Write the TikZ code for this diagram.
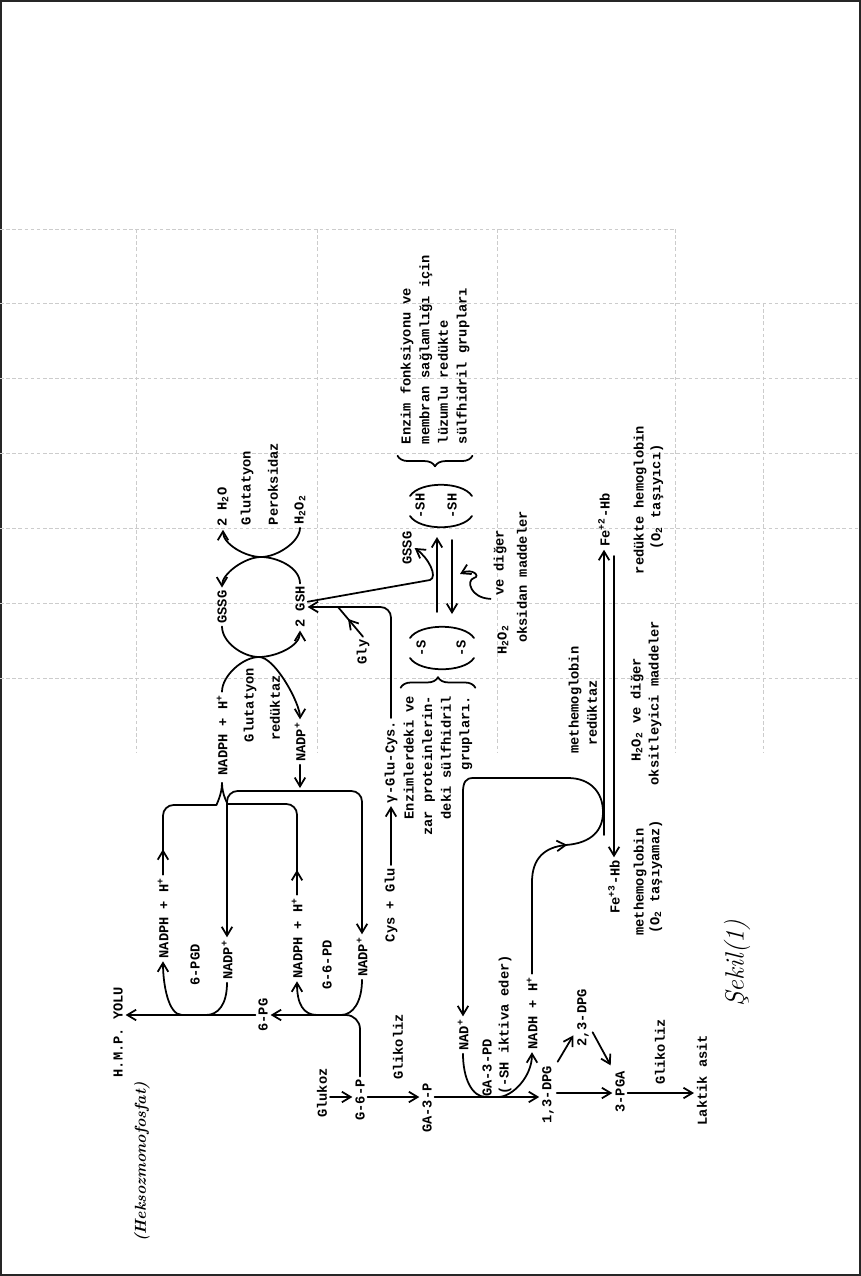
\documentclass[tikz,border=0pt]{standalone}
\usepackage{fontspec}
\newfontfamily\elyazi{Liberation Mono}
\usetikzlibrary{arrows.meta, calc, decorations.pathreplacing, decorations.markings}

\tikzset{
  etiket/.style={rotate=90, inner sep=1.5pt, font=\elyazi\bfseries\fontsize{7.8}{10.6}\selectfont},
  cizgi/.style={line width=1pt, line cap=round, line join=round},
  ok/.style={cizgi, -{Straight Barb[length=5pt, width=6pt]}},
  ciftok/.style={cizgi, {Straight Barb[length=5pt, width=6pt]}-{Straight Barb[length=5pt, width=6pt]}},
  ortaok/.style={cizgi, postaction={decorate}, decoration={markings, mark=at position #1 with {\arrow{Straight Barb[length=5pt, width=6pt]}}}},
  kume/.style={cizgi, decorate, decoration={brace, amplitude=6pt}},
  tablo/.style={black!20, line width=0.5pt, dash pattern=on 2pt off 1.5pt},
}

\begin{document}
\begin{tikzpicture}[x=0.02cm, y=-0.02cm]
  % Sayfa (page), koordinatlar piksel gibi, y asagi
  \def\busY{791} % NADP+ dagitim hatti
  \def\satirY{1097} % glikoliz satiri
  \useasboundingbox (0,0) rectangle (861,1276);
  \draw[black!85, line width=1.5pt] (1,1) rectangle (860,1275);

  % Soluk tablo (faint table)
  \draw[tablo] (0,229) -- (675,229);
  \foreach \y in {303,378,...,752} {
    \draw[tablo] (0,\y) -- (861,\y);
  }
  \foreach \x in {136,317,497,675} {
    \draw[tablo] (\x,229) -- (\x,752);
  }
  \draw[tablo] (763,303) -- (763,752);

  % Glutatyon dongusu (glutathione cycle)
  \node[etiket] (gssgA) at (222,607) {GSSG};
  \node[etiket] (gshA) at (300,607) {2 GSH};
  \node[etiket] (suA) at (223,507) {2 H\textsubscript{2}O};
  \node[etiket] (gpxA) at (247,488) {Glutatyon};
  \node[etiket] (gpxB) at (273,484) {Peroksidaz};
  \node[etiket] (hhA) at (300,510) {H\textsubscript{2}O\textsubscript{2}};
  \node[etiket] (grA) at (250,705) {Glutatyon};
  \node[etiket] (grB) at (275,708) {redüktaz};
  \node[etiket] (nadphA) at (222,735) {NADPH + H\textsuperscript{+}};
  \node[etiket] (nadpA) at (300,742) {NADP\textsuperscript{+}};

  % Peroksidaz capraz oklari
  \coordinate (px) at (261,557);
  \draw[ok] (gshA.east) .. controls +(0,-16) and +(16,0) .. (px) .. controls +(-16,0) and +(0,-14) .. (gssgA.east);
  \draw[ok] (hhA.west) .. controls +(0,14) and +(16,0) .. (px) .. controls +(-16,0) and +(0,14) .. (suA.west);
  % Reduktaz capraz oklari
  \coordinate (rx) at (259,657);
  \draw[ok] (gssgA.west) .. controls +(0,16) and +(-16,0) .. (rx) .. controls +(16,0) and +(0,16) .. (gshA.west);
  \draw[ok] (nadphA.east) .. controls +(0,-16) and +(-16,0) .. (rx) .. controls +(16,0) and +(0,-16) .. (nadpA.east);

  % GSH sentezi
  \node[etiket] (glucys) at (391,762) {γ-Glu-Cys.};
  \node[etiket] (cysglu) at (391,905) {Cys + Glu};
  \node[etiket] (gly) at (363,652) {Gly};
  \coordinate (glyj) at (338,607);
  \draw[ok] (cysglu.east) -- (glucys.west);
  \draw[ok, rounded corners=6pt] (glucys.east) |- (gshA.south);
  \draw[ortaok=0.6] (gly.east) -- (glyj);

  % Sulfhidril gruplari (-SH / -S)
  \node[etiket, align=left, anchor=west] (enzA) at (435,447) {Enzim fonksiyonu ve\\membran sağlamlığı için\\lüzumlu redükte\\sülfhidril grupları};
  \node[etiket] (sh1) at (420,506) {-SH};
  \node[etiket] (sh2) at (452,506) {-SH};
  \node[etiket] (s1) at (421,648) {-S};
  \node[etiket] (s2) at (461,648) {-S};
  \node[etiket, align=right, anchor=east] (enzB) at (438,693) {Enzimlerdeki ve\\zar proteinlerin-\\deki sülfhidril\\grupları.};
  \node[etiket] (gssgB) at (407,548) {GSSG};
  \node[etiket] (vediger) at (500,563) {ve diğer};
  \node[etiket] (hhB) at (503,640) {H\textsubscript{2}O\textsubscript{2}};
  \node[etiket] (oksidan) at (522,577) {oksidan maddeler};
  \draw[kume] ([yshift=-5pt]enzA.south west) -- ([yshift=-5pt]enzA.north west);
  \draw[kume] ([yshift=3pt]enzB.north east) -- ([yshift=3pt]enzB.south east);
  \draw[cizgi] (410,496) .. controls (420,481) and (462,481) .. (472,496);
  \draw[cizgi] (410,516) .. controls (420,531) and (462,531) .. (472,516);
  \draw[cizgi] (410,638) .. controls (420,623) and (464,623) .. (474,638);
  \draw[cizgi] (410,658) .. controls (420,673) and (464,673) .. (474,658);
  \coordinate (okA1) at (437,612);
  \coordinate (okA2) at (437,537);
  \coordinate (okB1) at (452,540);
  \coordinate (okB2) at (452,614);
  \draw[ok] (okA1) -- (okA2);
  \draw[ok] (okB1) -- (okB2);
  \coordinate (tch) at (430,580);
  \draw[ok] ([yshift=3pt]gshA.south) -- (tch) .. controls +(8,-3) and +(14,10) .. (gssgB.south);
  \draw[ok] (vediger.north west) .. controls (470,598) and (466,580) .. (474,578) .. controls (481,576) and (472,568) .. (460,574);

  % Methemoglobin
  \node[etiket] (fe2) at (604,520) {Fe\textsuperscript{+2}-Hb};
  \node[etiket] (fe3) at (614,887) {Fe\textsuperscript{+3}-Hb};
  \node[etiket] (metredA) at (575,700) {methemoglobin};
  \node[etiket] (metredB) at (592,713) {redüktaz};
  \node[etiket] (redhbA) at (640,500) {redükte hemoglobin};
  \node[etiket] (redhbB) at (657,497) {(O\textsubscript{2} taşıyıcı)};
  \node[etiket] (oksA) at (637,710) {H\textsubscript{2}O\textsubscript{2} ve diğer};
  \node[etiket] (oksB) at (655,703) {oksitleyici maddeler};
  \node[etiket] (methbA) at (640,882) {methemoglobin};
  \node[etiket] (methbB) at (656,877) {(O\textsubscript{2} taşıyamaz)};
  \coordinate (malt) at (0,835);
  \coordinate (must) at (0,556);
  \draw[ok] (fe2.west |- malt) -- (fe2.west);
  \draw[ok] (fe3.east |- must) -- (fe3.east);

  % Glikoliz
  \node[etiket] (glukoz) at (322,1093) {Glukoz};
  \node[etiket] (g6p) at (360,1100) {G-6-P};
  \node[etiket] (glikA) at (398,1047) {Glikoliz};
  \node[etiket] (ga3p) at (427,1108) {GA-3-P};
  \node[etiket] (nadA) at (463,1035) {NAD\textsuperscript{+}};
  \node[etiket] (ga3pd) at (487,1068) {GA-3-PD};
  \node[etiket] (shak) at (505,1025) {(-SH iktiva eder)};
  \node[etiket] (nadhA) at (532,1013) {NADH + H\textsuperscript{+}};
  \node[etiket] (dpg13) at (548,1095) {1,3-DPG};
  \node[etiket] (dpg23) at (583,1018) {2,3-DPG};
  \node[etiket] (pga3) at (620,1092) {3-PGA};
  \node[etiket] (glikB) at (660,1052) {Glikoliz};
  \node[etiket] (laktik) at (702,1080) {Laktik asit};
  \coordinate (satir) at (0,\satirY);
  \coordinate (satir2) at (0,1093);
  \draw[ok] (glukoz.south |- satir) -- (g6p.north |- satir);
  \draw[ok] (g6p.south |- satir) -- (ga3p.north |- satir);
  \draw[ok] (ga3p.south |- satir) -- (dpg13.north |- satir);
  \coordinate (j3a) at (486,\satirY);
  \coordinate (j3b) at (498,\satirY);
  \draw[cizgi] (nadA.west) .. controls +(0,25) and +(-14,0) .. (j3a);
  \draw[ok] (j3b) .. controls +(14,0) and +(0,25) .. (nadhA.west);
  \draw[ok] (dpg13.south |- satir2) -- (pga3.north |- satir2);
  \draw[ok, shorten <=1pt, shorten >=1pt] (dpg13.south east) -- ($(dpg23.north)!0.5!(dpg23.north west)$);
  \draw[ok, shorten <=1pt, shorten >=2pt] ($(dpg23.south)!0.4!(dpg23.south west)$) -- (pga3.north east);
  \draw[ok] (pga3.south |- satir2) -- (laktik.north |- satir2);

  % NADH -> methemoglobin reduktaz -> NAD+
  \draw[ortaok=0.25, -{Straight Barb[length=5pt, width=6pt]}] (nadhA.east) -- (532,882)
    .. controls (532,858) and (545,847) .. (566,845)
    .. controls (592,843) and (603,830) .. (603,812)
    .. controls (603,792) and (590,778) .. (568,778) -- (473,778)
    .. controls (466,778) and (463,782) .. (463,792) -- (nadA.east);

  % Heksozmonofosfat yolu (HMP shunt)
  \node[etiket] (nadphB) at (297,938) {NADPH + H\textsuperscript{+}};
  \node[etiket] (g6pd) at (327,965) {G-6-PD};
  \node[etiket] (nadpB) at (362,957) {NADP\textsuperscript{+}};
  \node[etiket] (pg6) at (263,1015) {6-PG};
  \node[etiket] (nadphC) at (163,918) {NADPH + H\textsuperscript{+}};
  \node[etiket] (pgd6) at (195,965) {6-PGD};
  \node[etiket] (nadpC) at (227,960) {NADP\textsuperscript{+}};
  \node[etiket] (hmp) at (118,1032) {H.M.P. YOLU};
  \node[rotate=90, font=\itshape\bfseries\fontsize{9}{11}\selectfont] (heksoz) at (142,1162) {(Heksozmonofosfat)};
  \draw[ok, rounded corners=8pt] (g6p.east) |- (pg6.south);
  \coordinate (jB1) at (341,1015);
  \coordinate (jB2) at (317,1015);
  \draw[cizgi] (nadpB.west) .. controls +(0,22) and +(12,0) .. (jB1);
  \draw[ok] (jB2) .. controls +(-14,0) and +(0,22) .. (nadphB.west);
  \draw[ok] (pg6.north) -- (pg6.north -| hmp.south);
  \coordinate (jC1) at (206,1015);
  \coordinate (jC2) at (182,1015);
  \draw[cizgi] (nadpC.west) .. controls +(0,22) and +(12,0) .. (jC1);
  \draw[ok] (jC2) .. controls +(-14,0) and +(0,22) .. (nadphC.west);

  % NADP+ dagitimi ve NADPH toplanmasi
  \coordinate (busy) at (0,\busY);
  \coordinate (nadpbus) at (300,788);
  \draw[ok] (nadpA.west) -- (nadpbus);
  \draw[ciftok, rounded corners=6pt] (nadpC.east) -- (nadpC.east |- busy) -- (nadpB.east |- busy) -- (nadpB.east);
  \coordinate (brTip) at (222,783);
  \coordinate (brR) at (238,804);
  \coordinate (brL) at (206,805);
  \draw[ortaok=0.14, rounded corners=6pt] (nadphB.east) |- (brR) .. controls +(-10,0) and +(0,12) .. (brTip);
  \draw[ortaok=0.18, rounded corners=6pt] (nadphC.east) |- (brL) .. controls +(10,0) and +(0,12) .. (brTip);

  % Sekil
  \node[rotate=90, font=\itshape\fontsize{15}{18}\selectfont] (sekil) at (737,963) {Şekil(1)};
\end{tikzpicture}
\end{document}
